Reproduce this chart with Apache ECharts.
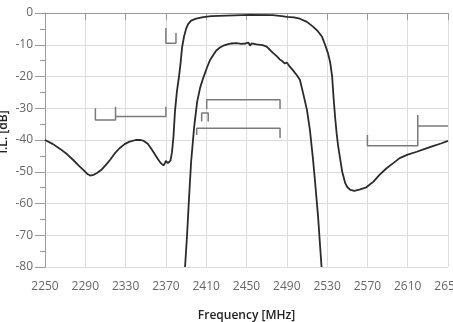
<!DOCTYPE html>
<html>
<head>
<meta charset="utf-8">
<script src="https://cdn.jsdelivr.net/npm/echarts@6/dist/echarts.min.js"></script>
<style>
html,body{margin:0;padding:0;background:#fff;}
#c{width:453px;height:322px;}
</style>
</head>
<body>
<div id="c"></div>
<script>
// Wide band-pass filter response [MHz, dB]
var wideFreq = [2250,2258,2265,2272,2278,2284,2288,2292,2295,2298,2302,2306,2310,2314.5,2319,2324,2329,2334,2340,2345,2348,2352,2356,2359,2362,2365,2367.5,2369,2370,2372,2374.5,2376,2377.5,2379,2381,2383,2384.5,2386,2388,2390,2392,2395,2400,2407,2415,2430,2453,2476,2485,2490,2497,2503,2510,2516,2521,2525,2528,2531,2533,2535,2536.5,2538,2539.5,2541,2543,2545,2548,2550,2553,2557,2562,2569,2576,2582,2589,2596,2602,2610,2619,2627,2635,2643,2650];
var wideIL = [-40,-41.3,-42.8,-44.5,-46.3,-48.2,-49.4,-50.7,-51.2,-51,-50.3,-49.4,-48,-46.3,-44.3,-42.6,-41.3,-40.5,-40,-40,-40.3,-41.2,-43,-44.5,-46,-47.3,-48,-47.3,-46.6,-47.3,-46.5,-44,-39,-31,-24.5,-20,-16,-11,-7.4,-5,-3.5,-2.4,-1.8,-1.3,-1,-0.8,-0.6,-0.7,-1,-1.2,-1.4,-1.8,-2.8,-4.3,-5.8,-7.5,-10,-12.8,-15.5,-20,-27,-33,-38,-42,-46,-50,-53.6,-54.8,-55.7,-56,-55.6,-54.9,-53.1,-51,-48.9,-47.2,-45.7,-44.6,-43.7,-42.8,-41.9,-41.1,-40.3];

// Narrow band-pass filter response [MHz, dB]
var narrowFreq = [2389,2391,2393,2395,2398,2401,2404,2407,2411,2414,2417,2420,2424,2427,2431,2435,2440,2445,2449,2452,2453.5,2455,2460,2466,2470,2473,2476,2480,2483,2486,2488,2490,2493,2496,2500,2503,2506,2510,2513,2516,2518,2521,2524.5];
var narrowIL = [-80,-70,-58,-47,-36,-28,-23.5,-20.5,-17,-14.7,-13.2,-11.8,-10.8,-10.3,-9.9,-9.6,-9.5,-9.7,-9.6,-9.3,-10.3,-9.6,-9.9,-10.1,-10.6,-11.5,-12.5,-13.6,-14.6,-15.3,-15.9,-15.6,-16.9,-18,-19.6,-21,-25,-30.5,-37,-46,-53,-64,-80];

// Specification mask brackets [MHz, dB]
var maskA = [[2300,-30],[2300,-33.7],[2320,-33.7],[2320,-29.5]];
var maskB = [[2320,-32.6],[2370,-32.6],[2370,-29.5]];
var maskC = [[2370,-4.7],[2370,-9.5],[2380,-9.5],[2380,-6.2]];
var maskD = [[2410.5,-30.2],[2410.5,-27.3],[2483.3,-27.3],[2483.3,-30.2]];
var maskE = [[2405.5,-34.2],[2405.5,-31.5],[2412,-31.5],[2412,-34.2]];
var maskF = [[2400.6,-38.4],[2400.6,-36.3],[2483.3,-36.3],[2483.3,-39.4]];
var maskG = [[2570,-38.4],[2570,-41.8],[2620,-41.8],[2620,-32.1]];
var maskH = [[2620,-35.6],[2650,-35.6]];

var masks = [maskA,maskB,maskC,maskD,maskE,maskF,maskG,maskH];

function zip(a,b){ return a.map(function(v,i){ return [v,b[i]]; }); }

var chart = echarts.init(document.getElementById('c'), null, {renderer:'canvas'});
var series = [];
masks.forEach(function(m){
  series.push({type:'line', data:m, symbol:'none', silent:true,
    lineStyle:{color:'#7a7a7a', width:1.5}, z:2});
});
series.push({type:'line', data:zip(wideFreq,wideIL), symbol:'none', clip:true,
  lineStyle:{color:'#2b2b2b', width:1.8}, z:3});
series.push({type:'line', data:zip(narrowFreq,narrowIL), symbol:'none', clip:true,
  lineStyle:{color:'#2b2b2b', width:1.8}, z:3});

chart.setOption({
  backgroundColor:'#fff',
  animation:false,
  grid:{left:45, right:5, top:13, bottom:55, containLabel:false, outerBoundsMode:'none'},
  xAxis:{
    type:'value', min:2250, max:2650, interval:40,
    name:'Frequency [MHz]', nameLocation:'middle', nameGap:43,
    nameTextStyle:{color:'#222', fontSize:12, fontFamily:'Open Sans', fontWeight:600},
    axisLine:{lineStyle:{color:'#9a9a9a', width:1}},
    axisTick:{show:true, length:7, lineStyle:{color:'#9a9a9a'}},
    axisLabel:{color:'#666', fontSize:12, fontFamily:'Open Sans', margin:14,
      hideOverlap:false, showMaxLabel:true, showMinLabel:true,
      formatter:function(v){ return String(v); }},
    splitLine:{show:true, lineStyle:{color:'#dcdcdc', width:1}}
  },
  yAxis:{
    type:'value', min:-80, max:0, interval:10,
    axisLine:{show:true, lineStyle:{color:'#9a9a9a', width:1}},
    axisTick:{show:true, length:10, lineStyle:{color:'#9a9a9a'}},
    minorTick:{show:true, splitNumber:2, length:5, lineStyle:{color:'#9a9a9a'}},
    axisLabel:{color:'#666', fontSize:12, fontFamily:'Open Sans', margin:12,
      formatter:function(v){ return String(v); }},
    splitLine:{show:true, lineStyle:{color:'#dcdcdc', width:1}}
  },
  graphic:[{
    type:'text', x:4, y:132, rotation:Math.PI/2,
    style:{text:'I.L. [dB]', fill:'#222', font:'600 12px "Open Sans"', align:'center', verticalAlign:'middle'}
  }],
  series:series
});
</script>
</body>
</html>
